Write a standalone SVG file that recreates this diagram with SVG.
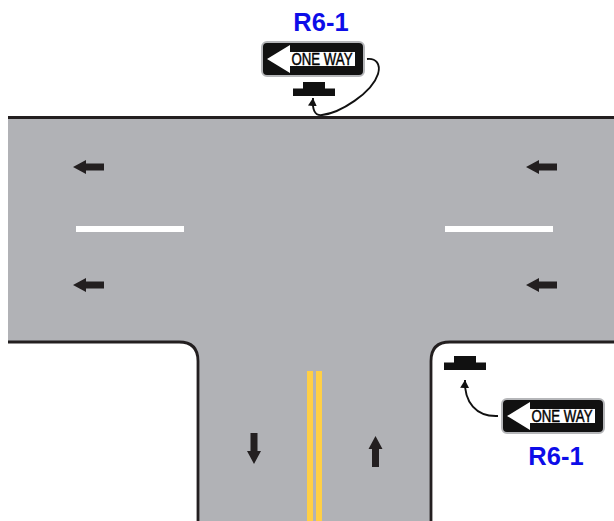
<svg xmlns="http://www.w3.org/2000/svg" width="614" height="521" viewBox="0 0 614 521">
<style>
.edge{fill:none;stroke:#231f20;stroke-width:2.8}
.ar{fill:#231f20}
.dash{fill:#fff}
.yl{fill:#ffcf45}
.lab{font-family:"Liberation Sans",Arial,sans-serif;font-weight:bold;font-size:25.500px;fill:#0d0de8;text-anchor:middle}
.txt{font-family:"Liberation Sans Narrow","Liberation Sans",sans-serif;font-size:17px;fill:#000;stroke:#000;stroke-width:.45}
.lead{fill:none;stroke:#111;stroke-width:1.9}
</style>
<defs>
<path id="la" class="ar" d="M0 0L13-7V-3.500H31V3.500H13V7Z"/>
<g id="sign">
<rect x="1" y="1" width="102" height="34" rx="5" fill="#111" stroke="#b5b6b9" stroke-width="2"/>
<rect x="29" y="11" width="65" height="14" fill="#fff"/>
<path d="M6 18L29 4V11H36V25H29V32Z" fill="#fff"/>
<text class="txt" x="30.500" y="24" textLength="61" lengthAdjust="spacingAndGlyphs">ONE WAY</text>
</g>
<path id="mt" fill="#111" d="M0 14V6.500H10V0H32V6.500H42V14Z"/>
<marker id="tip" markerWidth="9" markerHeight="10" refX="8" refY="4.500" orient="auto" markerUnits="userSpaceOnUse"><path d="M0 0L8 4.500L0 9Z" fill="#111"/></marker>
</defs>
<g id="road">
<path fill="#b1b2b6" d="M8 117H614V342H450Q431 342 431 361V521H198V361Q198 342 179 342H8Z"/>
<path class="edge" d="M8 117.500H614M8 342H179Q198 342 198 361V521M614 342H450Q431 342 431 361V521"/>
<rect class="dash" x="76" y="226" width="108" height="6"/>
<rect class="dash" x="445" y="226" width="108" height="6"/>
<rect class="yl" x="307" y="371" width="6" height="150"/>
<rect class="yl" x="316" y="371" width="6" height="150"/>
</g>
<g id="arrows">
<use href="#la" x="73" y="167"/>
<use href="#la" x="73" y="285"/>
<use href="#la" x="526" y="167"/>
<use href="#la" x="526" y="285"/>
<use href="#la" transform="translate(254 464) rotate(-90)"/>
<use href="#la" transform="translate(375.500 436) rotate(90)"/>
</g>
<g id="connectors">
<path class="lead" marker-end="url(#tip)" d="M367 59C376 58 381 64 378 74C372 93 340 113 322 115C315 116 312 110 313 98"/>
<path class="lead" marker-end="url(#tip)" d="M498 416C476 417 464 402 465 380"/>
</g>
<g id="sign-top">
<use href="#sign" x="261" y="41"/>
<use href="#mt" x="293" y="82"/>
<text class="lab" x="321" y="30.500">R6-1</text>
</g>
<g id="sign-right">
<use href="#sign" x="501" y="398"/>
<use href="#mt" x="444" y="356"/>
<text class="lab" x="556" y="465">R6-1</text>
</g>
</svg>
